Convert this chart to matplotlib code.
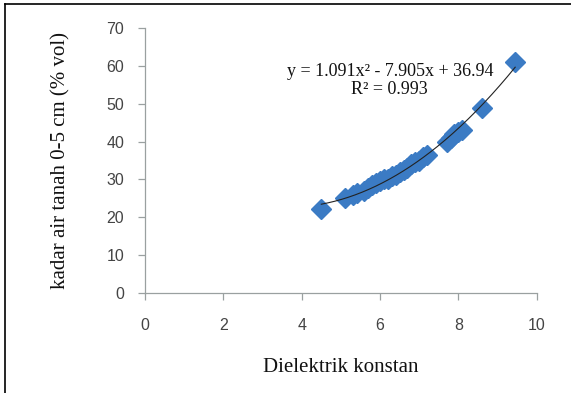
import matplotlib.pyplot as plt
from matplotlib.lines import Line2D
import numpy as np

# Dielectric constant vs soil water content (0-5 cm)
dielektrik = [4.5, 5.1, 5.3, 5.4, 5.6, 5.7, 5.8, 5.9, 6.0, 6.1, 6.2, 6.3,
              6.4, 6.5, 6.6, 6.7, 6.8, 6.9, 7.0, 7.1, 7.2, 7.7, 7.8, 7.9,
              8.0, 8.1, 8.6, 9.45]
kadar_air = [22.2, 25.0, 25.8, 26.5, 27.0, 27.8, 28.5, 29.0, 29.5, 30.2,
             30.0, 31.0, 31.2, 32.0, 32.5, 33.0, 34.0, 34.5, 35.0, 36.0,
             36.5, 40.0, 41.0, 42.0, 42.5, 43.2, 49.0, 61.0]
coef = [1.091, -7.905, 36.94]
r2 = 0.993

xticks = [0, 2, 4, 6, 8, 10]
yticks = [0, 10, 20, 30, 40, 50, 60, 70]

serif = ['Liberation Serif', 'DejaVu Serif']
sans = ['Liberation Sans Narrow', 'Liberation Sans', 'DejaVu Sans']

fig = plt.figure(figsize=[5.71, 3.93], dpi=100)
ax = fig.add_axes([0.254, 0.2545, 0.686, 0.674])

ax.plot(dielektrik, kadar_air, linestyle='none', marker='D', markersize=10.5,
        color='#3B7BC4', markeredgecolor='#3B7BC4', zorder=2)

xfit = np.linspace(min(dielektrik), max(dielektrik), 200)
ax.plot(xfit, np.polyval(coef, xfit), color='#222222', lw=0.8, zorder=3)

ax.set_xlim(0, 10)
ax.set_ylim(0, 70)
ax.set_xticks(xticks)
ax.set_yticks(yticks)
for s in ['top', 'right']:
    ax.spines[s].set_visible(False)
for s in ['left', 'bottom']:
    ax.spines[s].set_color('#9AA0A0')
    ax.spines[s].set_linewidth(0.9)
ax.tick_params(axis='both', colors='#9AA0A0', length=5, width=0.9,
               labelcolor='#444444')
ax.tick_params(axis='x', pad=13)
ax.tick_params(axis='y', pad=10)
for lab in ax.get_xticklabels() + ax.get_yticklabels():
    lab.set_family(sans)
    lab.set_fontsize(11.5)

ax.set_xlabel('Dielektrik konstan', family=serif, fontsize=15, labelpad=18,
              color='#111111')
ax.set_ylabel('kadar air tanah 0-5 cm (% vol)', family=serif, fontsize=15,
              labelpad=26, color='#111111')

eq = 'y = %.3fx\u00b2 - %.3fx + %.2f\nR\u00b2 = %.3f' % (coef[0], -coef[1], coef[2], r2)
ax.text(6.25, 51.5, eq, family=serif, fontsize=13, ha='center', va='bottom',
        linespacing=1.05, color='#111111')

# frame lines of the original picture (left and top edges)
fig.add_artist(Line2D([0.009, 0.009], [0, 0.99], transform=fig.transFigure,
                      color='black', lw=1.2))
fig.add_artist(Line2D([0.009, 1.0], [0.99, 0.99], transform=fig.transFigure,
                      color='black', lw=1.2))

fig.savefig('out.png', dpi=100)
